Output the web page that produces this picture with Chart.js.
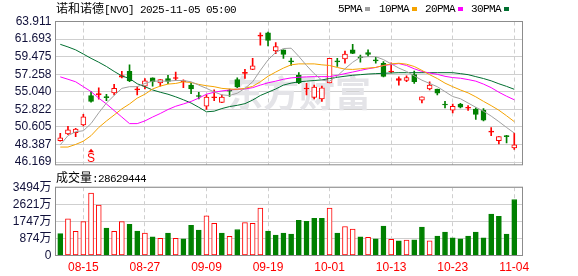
<!DOCTYPE html>
<html>
<head>
<meta charset="utf-8">
<script src="https://cdn.jsdelivr.net/npm/chart.js@4.4.1/dist/chart.umd.min.js"></script>
<style>
  body { margin: 0; background: #fff; width: 578px; height: 276px; overflow: hidden; position: relative; font-family: "Noto Sans CJK SC", sans-serif; }
  canvas { position: absolute; left: 0; }
  .t { position: absolute; white-space: nowrap; font-size: 12px; line-height: 14px; color: #000; z-index: 2; }
  .m { font-family: "Liberation Mono", monospace; font-size: 11px; letter-spacing: -0.6px; }
  .sq { position: absolute; width: 5px; height: 4px; top: 7px; z-index: 2; }
</style>
</head>
<body>
<canvas id="kline" width="578" height="176" style="top:0"></canvas>
<canvas id="vol" width="578" height="100" style="top:176px"></canvas>

<div class="t" style="left:56px;top:1px">诺和诺德<span class="m">[NVO] 2025-11-05 05:00</span></div>
<div class="t m" style="left:338px;top:2px">5PMA</div><div class="sq" style="left:365px;background:#a0a0a0"></div>
<div class="t m" style="left:379px;top:2px">10PMA</div><div class="sq" style="left:412px;background:#f5a300"></div>
<div class="t m" style="left:425px;top:2px">20PMA</div><div class="sq" style="left:458px;background:#ff00ff"></div>
<div class="t m" style="left:471px;top:2px">30PMA</div><div class="sq" style="left:504px;background:#006f30"></div>
<div class="t" style="left:56px;top:170px">成交量<span class="m" id="volTitle"></span></div>

<script>
// trading days shown
const dates = [
  "08-12","08-13","08-14","08-15","08-18","08-19","08-20","08-21","08-22","08-25",
  "08-26","08-27","08-28","08-29","09-02","09-03","09-04","09-05","09-08","09-09",
  "09-10","09-11","09-12","09-15","09-16","09-17","09-18","09-19","09-22","09-23",
  "09-24","09-25","09-26","09-29","09-30","10-01","10-02","10-03","10-06","10-07",
  "10-08","10-09","10-10","10-13","10-14","10-15","10-16","10-17","10-20","10-21",
  "10-22","10-23","10-24","10-27","10-28","10-29","10-30","10-31","11-03","11-04"
];
const xTickDates = ["08-15","08-27","09-09","09-19","10-01","10-13","10-23","11-04"];

const open = [
  48.88,49.71,49.87,50.86,54.57,54.65,54.33,54.90,56.87,57.61,
  55.27,55.76,56.79,56.17,56.71,56.71,56.30,55.88,54.53,53.21,
  54.28,53.70,55.19,56.59,57.37,57.86,62.06,62.47,60.21,60.33,
  58.89,57.12,55.39,54.32,54.15,56.17,58.89,59.18,60.33,59.43,
  60.00,59.01,58.64,57.53,56.46,56.46,57.20,53.99,55.39,55.39,
  53.45,52.71,53.50,52.96,52.84,52.71,49.95,48.88,49.46,47.94
];
const high = [
  49.79,50.69,50.41,52.18,55.06,55.55,54.73,55.97,57.61,58.44,
  55.68,56.71,56.79,56.59,57.12,57.53,56.54,56.09,54.98,54.65,
  55.27,54.65,55.39,56.79,57.86,59.26,62.47,62.56,61.24,60.33,
  59.30,57.45,56.09,55.88,55.76,59.26,59.26,60.17,61.03,59.67,
  60.33,59.38,58.85,58.68,56.92,57.04,57.66,54.40,56.30,55.39,
  53.82,53.50,53.58,53.29,53.00,52.92,50.53,49.38,49.54,49.83
];
const low = [
  48.80,49.62,49.38,50.74,53.74,54.11,53.91,54.65,56.79,56.30,
  54.65,55.39,55.76,55.76,56.05,56.46,55.56,54.81,54.15,52.80,
  53.91,53.66,54.44,55.56,56.71,57.82,60.91,60.83,59.84,59.26,
  58.36,56.05,54.65,54.15,53.82,56.17,58.23,58.64,59.84,58.77,
  59.47,58.64,56.92,57.45,55.88,56.30,56.09,53.62,55.27,54.65,
  53.00,52.38,53.00,52.67,51.56,51.35,49.50,48.47,48.59,47.77
];
const close = [
  49.21,50.24,50.32,51.89,53.83,54.81,54.30,55.47,57.08,56.42,
  55.39,56.42,56.30,56.59,56.34,56.83,56.42,55.39,54.44,54.36,
  54.40,54.36,55.10,55.68,57.49,58.31,62.19,61.53,60.74,59.76,
  58.81,56.17,55.51,55.64,55.55,59.26,58.81,59.80,59.88,59.34,
  59.76,58.93,56.99,57.61,56.71,56.83,56.30,54.40,55.88,54.86,
  53.37,53.21,53.09,53.04,52.18,51.44,50.04,49.38,49.38,48.35
];

const ma5 = [
  48.35,49.50,49.99,50.12,51.03,52.38,53.62,54.57,55.47,55.68,
  55.68,56.09,56.38,56.38,56.38,56.46,56.46,56.30,55.88,55.47,
  55.02,54.65,54.57,54.86,55.47,56.30,57.74,59.06,60.00,60.50,
  60.54,59.51,58.36,57.33,56.50,56.38,57.04,57.94,58.77,59.39,
  59.47,59.47,59.10,58.56,58.03,57.61,57.04,56.50,56.09,55.68,
  55.06,54.44,54.16,53.62,53.08,52.59,51.97,51.27,50.53,49.83
];
const ma10 = [
  48.06,48.06,48.39,48.80,49.50,50.53,51.35,52.10,52.88,53.50,
  54.24,54.73,55.39,55.76,56.01,56.09,56.30,56.21,55.97,55.80,
  55.68,55.47,55.39,55.35,55.47,55.72,56.30,57.00,57.53,58.03,
  58.44,58.56,58.56,58.56,58.44,58.36,58.11,57.90,57.86,57.94,
  58.03,58.11,58.36,58.56,58.64,58.52,58.23,57.74,57.20,56.71,
  56.13,55.68,55.27,54.90,54.40,53.83,53.29,52.71,52.01,51.27
];
const ma20 = [
  56.92,56.62,56.30,55.68,55.06,54.24,53.50,52.67,51.85,51.02,
  51.02,51.36,51.85,52.30,52.80,53.21,53.50,53.82,54.24,54.73,
  54.98,55.14,55.27,55.35,55.39,55.56,55.88,56.17,56.38,56.62,
  56.79,56.87,56.92,56.95,56.95,56.95,57.12,57.33,57.53,57.74,
  57.94,58.11,58.36,58.48,58.60,58.36,57.94,57.61,57.41,57.24,
  56.99,56.83,56.75,56.58,56.38,56.01,55.56,54.98,54.48,54.03
];
const ma30 = [
  61.03,60.70,60.33,59.80,59.26,58.77,58.23,57.61,57.04,56.71,
  56.05,55.68,55.27,54.98,54.73,54.40,54.03,53.62,53.08,52.51,
  52.59,52.92,53.17,53.33,53.54,53.99,54.57,54.98,55.39,55.88,
  56.13,56.30,56.38,56.46,56.54,56.71,56.87,57.00,57.12,57.20,
  57.28,57.33,57.37,57.41,57.45,57.45,57.45,57.45,57.45,57.45,
  57.45,57.45,57.33,57.20,56.95,56.71,56.42,56.05,55.72,55.35
];

// volume in 万 shares, 1 = up day (red hollow), 0 = down day (green)
const volume = [
  1116,1881,1232,1732,3197,2581,1399,1232,1732,1598,
  1249,1149,949,882,1149,882,849,1548,1299,2031,
  1648,1149,982,1332,1682,1648,2431,1249,1049,1149,
  1099,1798,1748,1898,1898,2431,1149,1482,1349,949,
  932,849,1499,833,749,783,799,1449,749,999,
  1199,899,849,999,1199,899,2115,1998,1099,2862.9444
];
const volUp = [
  0,1,1,1,1,1,0,1,1,0,
  0,1,0,1,0,1,0,0,0,1,
  1,0,1,0,1,1,1,0,0,0,
  0,0,0,0,0,1,0,1,1,0,
  1,0,0,1,0,1,0,0,1,0,
  0,0,0,0,0,0,0,0,0,0
];

const priceTicks = [46.169, 48.387, 50.605, 52.822, 55.040, 57.258, 59.475, 61.693, 63.911];
const volTicks = [0, 874, 1747, 2621, 3494];
const volTickLabels = ["0", "874万", "1747万", "2621万", "3494万"];
const signalIdx = 4, signalText = "S";

const RED = "#ff0000", GREEN = "#008000", GRID = "#cfcfcf", BOX = "#8c8c8c", LABEL = "#10103a";
const xTickIdx = xTickDates.map(d => dates.indexOf(d));
const pts = arr => arr.map((v, i) => ({ x: i, y: v }));
const isUp = close.map((c, i) => c >= open[i]);

Chart.defaults.font.family = "'Liberation Sans', 'Noto Sans CJK SC', sans-serif";
Chart.defaults.font.size = 12;

const boxPlugin = {
  id: "box",
  afterDraw(c) {
    const a = c.chartArea, ctx = c.ctx;
    ctx.save();
    ctx.strokeStyle = BOX; ctx.lineWidth = 1;
    ctx.strokeRect(a.left, a.top, a.right - a.left, a.bottom - a.top);
    ctx.restore();
  }
};

const watermark = {
  id: "watermark",
  beforeDatasetsDraw(c) {
    const ctx = c.ctx;
    ctx.save();
    ctx.font = "bold 36px 'Noto Sans CJK SC'";
    ctx.fillStyle = "#e4e4e8";
    ctx.textBaseline = "middle";
    ctx.fillText("东方财富", 227, 93);
    ctx.restore();
  }
};

const signal = {
  id: "signal",
  afterDatasetsDraw(c) {
    const ctx = c.ctx, x = c.scales.x.getPixelForValue(signalIdx), b = c.chartArea.bottom;
    ctx.save();
    ctx.fillStyle = RED;
    ctx.beginPath();
    ctx.moveTo(x, b - 16); ctx.lineTo(x - 3, b - 12.5); ctx.lineTo(x + 3, b - 12.5); ctx.closePath(); ctx.fill();
    ctx.font = "12px 'Liberation Sans'";
    ctx.textAlign = "center";
    ctx.textBaseline = "alphabetic";
    ctx.fillText(signalText, x, b - 3);
    ctx.restore();
  }
};

const xScale = (showLabels) => ({
  type: "linear", min: -0.62, max: 60.07, offset: false,
  afterBuildTicks: s => { s.ticks = xTickIdx.map(v => ({ value: v })); },
  ticks: { display: showLabels, color: RED, padding: 5, maxRotation: 0, autoSkip: false, callback: v => dates[v] },
  grid: { color: GRID, drawTicks: false, offset: false },
  border: { display: false, dash: [4, 3] }
});

const maLine = (arr, color, order) => ({
  type: "line", data: pts(arr), borderColor: color, borderWidth: 1,
  pointRadius: 0, tension: 0, fill: false, order: order
});

new Chart(document.getElementById("kline"), {
  type: "bar",
  data: {
    datasets: [
      maLine(ma5, "#a0a0a0", 0),
      maLine(ma10, "#f5a300", 1),
      maLine(ma20, "#ff00ff", 2),
      maLine(ma30, "#006f30", 3),
      {
        data: dates.map((d, i) => ({ x: i, y: [open[i], close[i]] })),
        backgroundColor: isUp.map((u, i) => u ? (close[i] - open[i] > 0.25 ? "#ffffff" : RED) : GREEN),
        borderColor: isUp.map(u => u ? RED : GREEN),
        borderWidth: 1, borderSkipped: false, barThickness: 5, minBarLength: 1, grouped: false, order: 5
      },
      {
        data: dates.map((d, i) => ({ x: i, y: [low[i], high[i]] })),
        backgroundColor: isUp.map(u => u ? RED : GREEN),
        borderWidth: 0, barThickness: 1, grouped: false, order: 6
      }
    ]
  },
  options: {
    responsive: false, animation: false, events: [],
    layout: { padding: { top: 21.5, right: 55.5, bottom: 7.5, left: 0 } },
    plugins: { legend: { display: false }, tooltip: { enabled: false } },
    scales: {
      x: Object.assign(xScale(false), { afterFit: s => { s.height = 0; } }),
      y: {
        min: 45.82, max: 63.911,
        afterBuildTicks: s => { s.ticks = priceTicks.map(v => ({ value: v })); },
        afterFit: s => { s.width = 55.5; },
        ticks: { color: LABEL, padding: 4, autoSkip: false, callback: v => v.toFixed(3) },
        grid: { color: GRID, drawTicks: false },
        border: { display: false }
      }
    }
  },
  plugins: [watermark, signal, boxPlugin]
});

document.getElementById("volTitle").textContent = ":" + Math.round(volume[volume.length - 1] * 10000);

new Chart(document.getElementById("vol"), {
  type: "bar",
  data: {
    datasets: [{
      data: volume.map((v, i) => ({ x: i, y: v })),
      backgroundColor: volUp.map(u => u ? "#ffffff" : GREEN),
      borderColor: volUp.map(u => u ? RED : GREEN),
      borderWidth: 1, borderSkipped: false, barThickness: 5
    }]
  },
  options: {
    responsive: false, animation: false, events: [],
    layout: { padding: { top: 10.5, right: 55.5, bottom: 0, left: 0 } },
    plugins: { legend: { display: false }, tooltip: { enabled: false } },
    scales: {
      x: Object.assign(xScale(true), { afterFit: s => { s.height = 20.5; } }),
      y: {
        min: 0, max: 3494,
        afterBuildTicks: s => { s.ticks = volTicks.map(v => ({ value: v })); },
        afterFit: s => { s.width = 55.5; },
        ticks: { color: LABEL, padding: 4, autoSkip: false, callback: (v, i) => volTickLabels[i] },
        grid: { color: GRID, drawTicks: false },
        border: { display: false }
      }
    }
  },
  plugins: [boxPlugin]
});
</script>
</body>
</html>
